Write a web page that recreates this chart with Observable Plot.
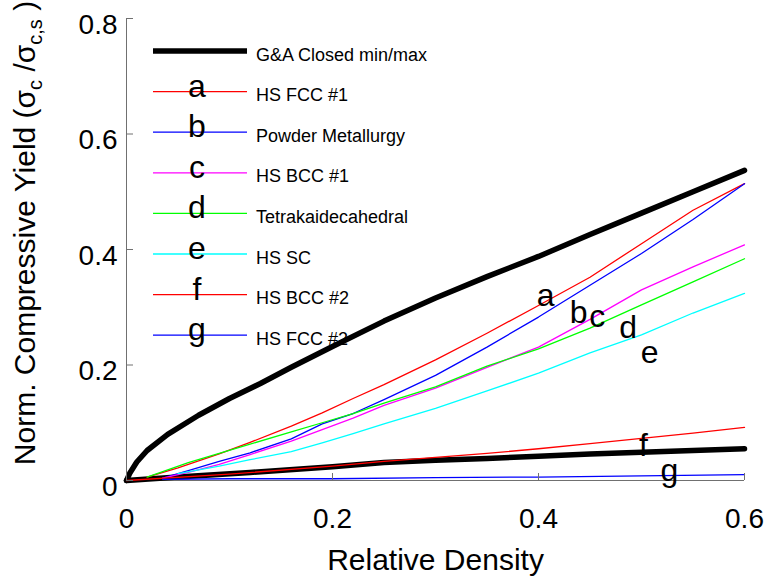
<!DOCTYPE html>
<html><head><meta charset="utf-8">
<script src="https://cdn.jsdelivr.net/npm/d3@7"></script>
<script src="https://cdn.jsdelivr.net/npm/@observablehq/plot@0.6"></script>
<style>html,body{margin:0;padding:0;background:#fff;} #chart{width:767px;height:581px;}</style>
</head><body><div id="chart"></div>
<script>
// ---- data ----
const gaMaxRho = [0, 0.003, 0.01, 0.02, 0.04, 0.07, 0.1, 0.13, 0.16, 0.2, 0.25, 0.3, 0.35, 0.4, 0.45, 0.5, 0.55, 0.6];
const gaMaxVal = [0, 0.012, 0.032, 0.052, 0.08, 0.113, 0.142, 0.168, 0.196, 0.232, 0.276, 0.316, 0.353, 0.388, 0.426, 0.463, 0.5, 0.537];
const gaMinRho = [0, 0.05, 0.12, 0.2, 0.25, 0.3, 0.35, 0.4, 0.45, 0.5, 0.55, 0.6];
const gaMinVal = [0, 0.006, 0.014, 0.024, 0.031, 0.035, 0.038, 0.042, 0.046, 0.049, 0.052, 0.055];

const aRho = [0.02, 0.05, 0.09, 0.12, 0.16, 0.19, 0.22, 0.25, 0.3, 0.35, 0.4, 0.45, 0.5, 0.55, 0.6];
const aVal = [0.006, 0.022, 0.046, 0.066, 0.094, 0.117, 0.142, 0.166, 0.209, 0.255, 0.303, 0.352, 0.41, 0.468, 0.514];
const bRho = [0.035, 0.06, 0.09, 0.12, 0.16, 0.19, 0.22, 0.25, 0.3, 0.35, 0.4, 0.45, 0.5, 0.55, 0.6];
const bVal = [0.004, 0.017, 0.033, 0.048, 0.072, 0.098, 0.116, 0.14, 0.182, 0.231, 0.283, 0.338, 0.393, 0.452, 0.514];
const cRho = [0.035, 0.06, 0.09, 0.12, 0.16, 0.19, 0.22, 0.25, 0.3, 0.35, 0.4, 0.45, 0.5, 0.55, 0.6];
const cVal = [0.004, 0.014, 0.028, 0.045, 0.068, 0.088, 0.108, 0.13, 0.16, 0.196, 0.231, 0.279, 0.33, 0.37, 0.408];
const dRho = [0.02, 0.06, 0.09, 0.12, 0.16, 0.19, 0.22, 0.25, 0.3, 0.35, 0.4, 0.45, 0.5, 0.55, 0.6];
const dVal = [0.006, 0.031, 0.047, 0.063, 0.084, 0.1, 0.116, 0.134, 0.162, 0.198, 0.228, 0.264, 0.304, 0.344, 0.384];
const eRho = [0.05, 0.09, 0.12, 0.16, 0.19, 0.22, 0.25, 0.3, 0.35, 0.4, 0.45, 0.5, 0.55, 0.6];
const eVal = [0.012, 0.025, 0.036, 0.05, 0.065, 0.081, 0.098, 0.125, 0.155, 0.186, 0.221, 0.252, 0.29, 0.324];
const fRho = [0, 0.1, 0.2, 0.25, 0.3, 0.35, 0.4, 0.45, 0.5, 0.55, 0.6];
const fVal = [0, 0.011, 0.025, 0.033, 0.04, 0.047, 0.055, 0.064, 0.073, 0.082, 0.092];
const gRho = [0.035, 0.1, 0.2, 0.3, 0.4, 0.5, 0.6];
const gVal = [0.002, 0.003, 0.003, 0.005, 0.006, 0.008, 0.01];

const seriesLetters = ["a", "b", "c", "d", "e", "f", "g"];
const seriesNames = ["HS FCC #1", "Powder Metallurgy", "HS BCC #1", "Tetrakaidecahedral", "HS SC", "HS BCC #2", "HS FCC #2"];
const gaName = "G&A Closed min/max";

// letter annotations on curves (data units)
const letterRho = [0.407, 0.439, 0.457, 0.487, 0.508, 0.502, 0.527];
const letterVal = [0.303, 0.273, 0.265, 0.246, 0.204, 0.043, 0.0];

const xTicks = [0, 0.2, 0.4, 0.6];
const xTickLabels = ["0", "0.2", "0.4", "0.6"];
const yTicks = [0, 0.2, 0.4, 0.6, 0.8];
const yTickLabels = ["0", "0.2", "0.4", "0.6", "0.8"];
const xLabel = "Relative Density";

// ---- styles ----
const seriesColors = ["#ff0000", "#0000ff", "#ff00ff", "#00ff00", "#00ffff", "#ff0000", "#0000ff"];
const FONT = "'Liberation Sans', Arial, Helvetica, sans-serif";

const seriesRho = [aRho, bRho, cRho, dRho, eRho, fRho, gRho];
const seriesVal = [aVal, bVal, cVal, dVal, eVal, fVal, gVal];
const toRows = (rs, vs) => rs.map((r, i) => ({rho: r, v: vs[i]}));

const marks = [
  Plot.ruleX([0], {stroke: "#707070", strokeWidth: 1}),
  Plot.ruleY([0], {stroke: "#707070", strokeWidth: 1}),
  Plot.line(toRows(gaMaxRho, gaMaxVal), {x: "rho", y: "v", stroke: "#000", strokeWidth: 5.5, strokeLinejoin: "round"}),
  Plot.line(toRows(gaMinRho, gaMinVal), {x: "rho", y: "v", stroke: "#000", strokeWidth: 5.5, strokeLinejoin: "round"})
];
seriesRho.forEach((rs, i) => {
  marks.push(Plot.line(toRows(rs, seriesVal[i]), {x: "rho", y: "v", stroke: seriesColors[i], strokeWidth: 1.3}));
});
marks.push(
  Plot.text(seriesLetters, {x: (d, i) => letterRho[i], y: (d, i) => letterVal[i], text: d => d, fontSize: 32, textAnchor: "middle", lineAnchor: "bottom", fill: "#000"}),
  Plot.text(xTicks, {x: d => d, frameAnchor: "bottom", text: (d, i) => xTickLabels[i], dy: 47, lineAnchor: "bottom", fontSize: 28, textAnchor: "middle"}),
  Plot.text(yTicks, {y: d => d, frameAnchor: "left", text: (d, i) => yTickLabels[i], dx: -9, dy: 15, lineAnchor: "bottom", fontSize: 28, textAnchor: "end"}),
  Plot.text([xLabel], {frameAnchor: "bottom", text: d => d, dy: 89, lineAnchor: "bottom", fontSize: 30, textAnchor: "middle"})
);

const chart = Plot.plot({
  width: 767, height: 581,
  marginLeft: 126, marginRight: 23, marginTop: 18, marginBottom: 101,
  x: {domain: [0, 0.6], axis: null},
  y: {domain: [0, 0.8], axis: null},
  style: {fontFamily: FONT, background: "#fff", color: "#000"},
  marks
});
document.getElementById("chart").appendChild(chart);

// ---- overlays: inward ticks, legend, y label ----
const svg = d3.select(chart);
const sx = chart.scale("x"), sy = chart.scale("y");
const x0 = sx.apply(0), y0 = sy.apply(0);
const gT = svg.append("g").attr("stroke", "#707070").attr("stroke-width", 1);
xTicks.forEach(t => gT.append("line").attr("x1", sx.apply(t) + 0.5).attr("x2", sx.apply(t) + 0.5).attr("y1", y0).attr("y2", y0 - 7));
yTicks.forEach(t => gT.append("line").attr("x1", x0).attr("x2", x0 + 7).attr("y1", sy.apply(t) + 0.5).attr("y2", sy.apply(t) + 0.5));

// legend (drawn beneath the curves)
const legend = svg.insert("g", "g").attr("font-family", FONT).attr("text-anchor", "start");
const legRows = [{name: gaName, color: "#000", w: 5.5, letter: ""}]
  .concat(seriesNames.map((n, i) => ({name: n, color: seriesColors[i], w: 1.3, letter: seriesLetters[i]})));
const legTop = 51, legStep = 40.6, legX1 = 153, legX2 = 247, legText = 256;
legRows.forEach((r, i) => {
  const y = legTop + i * legStep;
  legend.append("line").attr("x1", legX1).attr("x2", legX2).attr("y1", y).attr("y2", y)
    .attr("stroke", r.color).attr("stroke-width", r.w);
  if (r.letter) legend.append("text").attr("x", 197).attr("y", y + 5).attr("text-anchor", "middle")
    .attr("font-size", 32).attr("fill", "#000").text(r.letter);
  legend.append("text").attr("x", legText).attr("y", y + 9.5).attr("text-anchor", "start")
    .attr("font-size", 18).attr("fill", "#000").text(r.name);
});

// y label with subscripts
const yl = svg.append("text").attr("transform", "translate(35,233) rotate(-90)")
  .attr("text-anchor", "middle").attr("font-family", FONT).attr("font-size", 30).attr("fill", "#000");
yl.append("tspan").text("Norm. Compressive Yield (σ");
yl.append("tspan").attr("font-size", 20).attr("dy", 7).text("c");
yl.append("tspan").attr("dy", -7).text(" /σ");
yl.append("tspan").attr("font-size", 20).attr("dy", 7).text("c,s");
yl.append("tspan").attr("dy", -7).text(" )");
</script>
</body></html>
